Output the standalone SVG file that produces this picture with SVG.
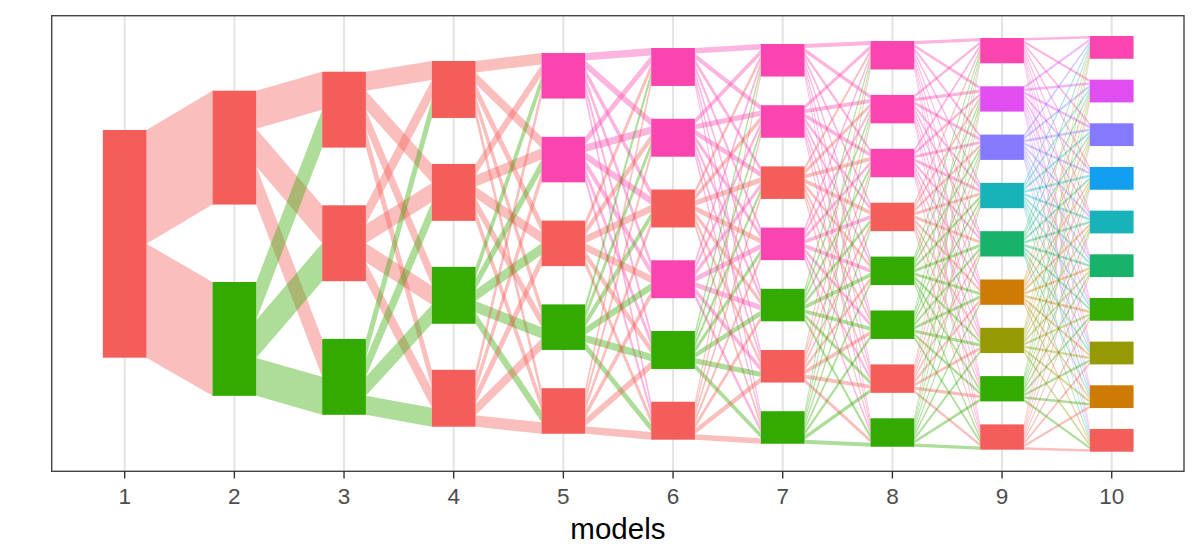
<svg xmlns="http://www.w3.org/2000/svg" width="1200" height="560" viewBox="0 0 1200 560">
<style>
.grid{stroke:#E3E3E3;stroke-width:2}
.tick{stroke:#333333;stroke-width:1.4}
.tl{font-family:"Liberation Sans",Arial,sans-serif;font-size:22.5px;fill:#4D4D4D;text-anchor:middle}
.title{font-family:"Liberation Sans",Arial,sans-serif;font-size:29.5px;fill:#000000;text-anchor:middle}
.cR{fill:#F35E5A}.cG{fill:#33AA00}.cP{fill:#FA45B0}.cM{fill:#E04DF1}.cV{fill:#8579FF}
.cT{fill:#17B3B9}.cE{fill:#17B26B}.cO{fill:#CD7B05}.cL{fill:#949A03}.cB{fill:#139FEF}
</style>
<defs>
<path id="f1" d="M0,130l1,-39.3v113.85l-1,39.3z"/>
<path id="f2" d="M0,90.7l1,-19v37.95l-1,19z"/>
<path id="f3" d="M0,71.7l1,-10.7v18.975l-1,10.7z"/>
<path id="f4" d="M0,61l1,-8v11.385l-1,8z"/>
<path id="f5" d="M0,53l1,-5v7.59l-1,5z"/>
<path id="f6" d="M0,48l1,-4v5.421l-1,4z"/>
<path id="f7" d="M0,44l1,-3v4.066l-1,3z"/>
<path id="f8" d="M0,41l1,-3v3.1625l-1,3z"/>
<path id="f9" d="M0,38l1,-2v2.53l-1,2z"/>
<g id="r1"><use href="#f1"/><use href="#f1" transform="matrix(1,77.45,0,1,0,113.85)"/></g>
<g id="r2"><use href="#f2"/><use href="#f2" transform="matrix(1,95.65,0,1,0,37.95)"/><use href="#f2" transform="matrix(1,191.3,0,1,0,75.9)"/></g>
<g id="r3"><use href="#f3"/><use href="#f3" transform="matrix(1,83.955,0,1,0,18.975)"/><use href="#f3" transform="matrix(1,167.91,0,1,0,37.95)"/><use href="#f3" transform="matrix(1,251.865,0,1,0,56.925)"/></g>
<g id="r4"><use href="#f4"/><use href="#f4" transform="matrix(1,72.415,0,1,0,11.385)"/><use href="#f4" transform="matrix(1,144.83,0,1,0,22.77)"/><use href="#f4" transform="matrix(1,217.245,0,1,0,34.155)"/><use href="#f4" transform="matrix(1,289.66,0,1,0,45.54)"/></g>
<g id="r5"><use href="#f5"/><use href="#f5" transform="matrix(1,63.16,0,1,0,7.59)"/><use href="#f5" transform="matrix(1,126.32,0,1,0,15.18)"/><use href="#f5" transform="matrix(1,189.48,0,1,0,22.77)"/><use href="#f5" transform="matrix(1,252.64,0,1,0,30.36)"/><use href="#f5" transform="matrix(1,315.8,0,1,0,37.95)"/></g>
<g id="r6"><use href="#f6"/><use href="#f6" transform="matrix(1,55.779,0,1,0,5.421)"/><use href="#f6" transform="matrix(1,111.558,0,1,0,10.842)"/><use href="#f6" transform="matrix(1,167.337,0,1,0,16.263)"/><use href="#f6" transform="matrix(1,223.116,0,1,0,21.684)"/><use href="#f6" transform="matrix(1,278.895,0,1,0,27.105)"/><use href="#f6" transform="matrix(1,334.674,0,1,0,32.526)"/></g>
<g id="r7"><use href="#f7"/><use href="#f7" transform="matrix(1,49.834,0,1,0,4.066)"/><use href="#f7" transform="matrix(1,99.668,0,1,0,8.132)"/><use href="#f7" transform="matrix(1,149.502,0,1,0,12.198)"/><use href="#f7" transform="matrix(1,199.336,0,1,0,16.264)"/><use href="#f7" transform="matrix(1,249.17,0,1,0,20.33)"/><use href="#f7" transform="matrix(1,299.004,0,1,0,24.396)"/><use href="#f7" transform="matrix(1,348.838,0,1,0,28.462)"/></g>
<g id="r8"><use href="#f8"/><use href="#f8" transform="matrix(1,45.1375,0,1,0,3.1625)"/><use href="#f8" transform="matrix(1,90.275,0,1,0,6.325)"/><use href="#f8" transform="matrix(1,135.4125,0,1,0,9.4875)"/><use href="#f8" transform="matrix(1,180.55,0,1,0,12.65)"/><use href="#f8" transform="matrix(1,225.6875,0,1,0,15.8125)"/><use href="#f8" transform="matrix(1,270.825,0,1,0,18.975)"/><use href="#f8" transform="matrix(1,315.9625,0,1,0,22.1375)"/><use href="#f8" transform="matrix(1,361.1,0,1,0,25.3)"/></g>
<g id="r9"><use href="#f9"/><use href="#f9" transform="matrix(1,41.13,0,1,0,2.53)"/><use href="#f9" transform="matrix(1,82.26,0,1,0,5.06)"/><use href="#f9" transform="matrix(1,123.39,0,1,0,7.59)"/><use href="#f9" transform="matrix(1,164.52,0,1,0,10.12)"/><use href="#f9" transform="matrix(1,205.65,0,1,0,12.65)"/><use href="#f9" transform="matrix(1,246.78,0,1,0,15.18)"/><use href="#f9" transform="matrix(1,287.91,0,1,0,17.71)"/><use href="#f9" transform="matrix(1,329.04,0,1,0,20.24)"/><use href="#f9" transform="matrix(1,370.17,0,1,0,22.77)"/></g>
</defs>
<rect width="1200" height="560" fill="#FFFFFF"/>
<g id="grid">
<line class="grid" x1="124.7" y1="15.7" x2="124.7" y2="471"/>
<line class="grid" x1="234.37" y1="15.7" x2="234.37" y2="471"/>
<line class="grid" x1="344.04" y1="15.7" x2="344.04" y2="471"/>
<line class="grid" x1="453.71" y1="15.7" x2="453.71" y2="471"/>
<line class="grid" x1="563.38" y1="15.7" x2="563.38" y2="471"/>
<line class="grid" x1="673.05" y1="15.7" x2="673.05" y2="471"/>
<line class="grid" x1="782.72" y1="15.7" x2="782.72" y2="471"/>
<line class="grid" x1="892.39" y1="15.7" x2="892.39" y2="471"/>
<line class="grid" x1="1002.06" y1="15.7" x2="1002.06" y2="471"/>
<line class="grid" x1="1111.73" y1="15.7" x2="1111.73" y2="471"/>
</g>
<g id="flows" fill-opacity="0.4">
<g transform="translate(146.55,0) scale(65.97,1)">
<use href="#r1" class="cR"/>
</g>
<g transform="translate(256.22,0) scale(65.97,1)">
<use href="#r2" class="cR"/>
<use href="#r2" class="cG" transform="matrix(1,-153.35,0,1,0,191.3)"/>
</g>
<g transform="translate(365.89,0) scale(65.97,1)">
<use href="#r3" class="cR"/>
<use href="#r3" class="cR" transform="matrix(1,-114.625,0,1,0,133.6)"/>
<use href="#r3" class="cG" transform="matrix(1,-229.25,0,1,0,267.2)"/>
</g>
<g transform="translate(475.56,0) scale(65.97,1)">
<use href="#r4" class="cR"/>
<use href="#r4" class="cR" transform="matrix(1,-91.545,0,1,0,102.93)"/>
<use href="#r4" class="cG" transform="matrix(1,-183.09,0,1,0,205.86)"/>
<use href="#r4" class="cR" transform="matrix(1,-274.635,0,1,0,308.79)"/>
</g>
<g transform="translate(585.23,0) scale(65.97,1)">
<use href="#r5" class="cP"/>
<use href="#r5" class="cP" transform="matrix(1,-76.21,0,1,0,83.8)"/>
<use href="#r5" class="cR" transform="matrix(1,-152.42,0,1,0,167.6)"/>
<use href="#r5" class="cG" transform="matrix(1,-228.63,0,1,0,251.4)"/>
<use href="#r5" class="cR" transform="matrix(1,-304.84,0,1,0,335.2)"/>
</g>
<g transform="translate(694.9,0) scale(65.97,1)">
<use href="#r6" class="cP"/>
<use href="#r6" class="cP" transform="matrix(1,-65.329,0,1,0,70.75)"/>
<use href="#r6" class="cR" transform="matrix(1,-130.658,0,1,0,141.5)"/>
<use href="#r6" class="cP" transform="matrix(1,-195.987,0,1,0,212.25)"/>
<use href="#r6" class="cG" transform="matrix(1,-261.316,0,1,0,283)"/>
<use href="#r6" class="cR" transform="matrix(1,-326.645,0,1,0,353.75)"/>
</g>
<g transform="translate(804.57,0) scale(65.97,1)">
<use href="#r7" class="cP"/>
<use href="#r7" class="cP" transform="matrix(1,-57.134,0,1,0,61.2)"/>
<use href="#r7" class="cR" transform="matrix(1,-114.268,0,1,0,122.4)"/>
<use href="#r7" class="cP" transform="matrix(1,-171.402,0,1,0,183.6)"/>
<use href="#r7" class="cG" transform="matrix(1,-228.536,0,1,0,244.8)"/>
<use href="#r7" class="cR" transform="matrix(1,-285.67,0,1,0,306)"/>
<use href="#r7" class="cG" transform="matrix(1,-342.804,0,1,0,367.2)"/>
</g>
<g transform="translate(914.24,0) scale(65.97,1)">
<use href="#r8" class="cP"/>
<use href="#r8" class="cP" transform="matrix(1,-50.7375,0,1,0,53.9)"/>
<use href="#r8" class="cP" transform="matrix(1,-101.475,0,1,0,107.8)"/>
<use href="#r8" class="cR" transform="matrix(1,-152.2125,0,1,0,161.7)"/>
<use href="#r8" class="cG" transform="matrix(1,-202.95,0,1,0,215.6)"/>
<use href="#r8" class="cG" transform="matrix(1,-253.6875,0,1,0,269.5)"/>
<use href="#r8" class="cR" transform="matrix(1,-304.425,0,1,0,323.4)"/>
<use href="#r8" class="cG" transform="matrix(1,-355.1625,0,1,0,377.3)"/>
</g>
<g transform="translate(1023.91,0) scale(65.97,1)">
<use href="#r9" class="cP"/>
<use href="#r9" class="cM" transform="matrix(1,-45.77,0,1,0,48.3)"/>
<use href="#r9" class="cV" transform="matrix(1,-91.54,0,1,0,96.6)"/>
<use href="#r9" class="cT" transform="matrix(1,-137.31,0,1,0,144.9)"/>
<use href="#r9" class="cE" transform="matrix(1,-183.08,0,1,0,193.2)"/>
<use href="#r9" class="cO" transform="matrix(1,-228.85,0,1,0,241.5)"/>
<use href="#r9" class="cL" transform="matrix(1,-274.62,0,1,0,289.8)"/>
<use href="#r9" class="cG" transform="matrix(1,-320.39,0,1,0,338.1)"/>
<use href="#r9" class="cR" transform="matrix(1,-366.16,0,1,0,386.4)"/>
</g>
</g>
<g id="nodes">
<g id="n1-1"><rect class="cR" x="102.85" y="130" width="43.7" height="227.7"/></g>
<g id="n2-1"><rect class="cR" x="212.52" y="90.7" width="43.7" height="113.85"/></g>
<g id="n2-2"><rect class="cG" x="212.52" y="282" width="43.7" height="113.85"/></g>
<g id="n3-1"><rect class="cR" x="322.19" y="71.7" width="43.7" height="75.9"/></g>
<g id="n3-2"><rect class="cR" x="322.19" y="205.3" width="43.7" height="75.9"/></g>
<g id="n3-3"><rect class="cG" x="322.19" y="338.9" width="43.7" height="75.9"/></g>
<g id="n4-1"><rect class="cR" x="431.86" y="61" width="43.7" height="56.93"/></g>
<g id="n4-2"><rect class="cR" x="431.86" y="163.93" width="43.7" height="56.93"/></g>
<g id="n4-3"><rect class="cG" x="431.86" y="266.86" width="43.7" height="56.93"/></g>
<g id="n4-4"><rect class="cR" x="431.86" y="369.79" width="43.7" height="56.93"/></g>
<g id="n5-1"><rect class="cP" x="541.53" y="53" width="43.7" height="45.54"/></g>
<g id="n5-2"><rect class="cP" x="541.53" y="136.8" width="43.7" height="45.54"/></g>
<g id="n5-3"><rect class="cR" x="541.53" y="220.6" width="43.7" height="45.54"/></g>
<g id="n5-4"><rect class="cG" x="541.53" y="304.4" width="43.7" height="45.54"/></g>
<g id="n5-5"><rect class="cR" x="541.53" y="388.2" width="43.7" height="45.54"/></g>
<g id="n6-1"><rect class="cP" x="651.2" y="48" width="43.7" height="37.95"/></g>
<g id="n6-2"><rect class="cP" x="651.2" y="118.75" width="43.7" height="37.95"/></g>
<g id="n6-3"><rect class="cR" x="651.2" y="189.5" width="43.7" height="37.95"/></g>
<g id="n6-4"><rect class="cP" x="651.2" y="260.25" width="43.7" height="37.95"/></g>
<g id="n6-5"><rect class="cG" x="651.2" y="331" width="43.7" height="37.95"/></g>
<g id="n6-6"><rect class="cR" x="651.2" y="401.75" width="43.7" height="37.95"/></g>
<g id="n7-1"><rect class="cP" x="760.87" y="44" width="43.7" height="32.53"/></g>
<g id="n7-2"><rect class="cP" x="760.87" y="105.2" width="43.7" height="32.53"/></g>
<g id="n7-3"><rect class="cR" x="760.87" y="166.4" width="43.7" height="32.53"/></g>
<g id="n7-4"><rect class="cP" x="760.87" y="227.6" width="43.7" height="32.53"/></g>
<g id="n7-5"><rect class="cG" x="760.87" y="288.8" width="43.7" height="32.53"/></g>
<g id="n7-6"><rect class="cR" x="760.87" y="350" width="43.7" height="32.53"/></g>
<g id="n7-7"><rect class="cG" x="760.87" y="411.2" width="43.7" height="32.53"/></g>
<g id="n8-1"><rect class="cP" x="870.54" y="41" width="43.7" height="28.46"/></g>
<g id="n8-2"><rect class="cP" x="870.54" y="94.9" width="43.7" height="28.46"/></g>
<g id="n8-3"><rect class="cP" x="870.54" y="148.8" width="43.7" height="28.46"/></g>
<g id="n8-4"><rect class="cR" x="870.54" y="202.7" width="43.7" height="28.46"/></g>
<g id="n8-5"><rect class="cG" x="870.54" y="256.6" width="43.7" height="28.46"/></g>
<g id="n8-6"><rect class="cG" x="870.54" y="310.5" width="43.7" height="28.46"/></g>
<g id="n8-7"><rect class="cR" x="870.54" y="364.4" width="43.7" height="28.46"/></g>
<g id="n8-8"><rect class="cG" x="870.54" y="418.3" width="43.7" height="28.46"/></g>
<g id="n9-1"><rect class="cP" x="980.21" y="38" width="43.7" height="25.3"/></g>
<g id="n9-2"><rect class="cM" x="980.21" y="86.3" width="43.7" height="25.3"/></g>
<g id="n9-3"><rect class="cV" x="980.21" y="134.6" width="43.7" height="25.3"/></g>
<g id="n9-4"><rect class="cT" x="980.21" y="182.9" width="43.7" height="25.3"/></g>
<g id="n9-5"><rect class="cE" x="980.21" y="231.2" width="43.7" height="25.3"/></g>
<g id="n9-6"><rect class="cO" x="980.21" y="279.5" width="43.7" height="25.3"/></g>
<g id="n9-7"><rect class="cL" x="980.21" y="327.8" width="43.7" height="25.3"/></g>
<g id="n9-8"><rect class="cG" x="980.21" y="376.1" width="43.7" height="25.3"/></g>
<g id="n9-9"><rect class="cR" x="980.21" y="424.4" width="43.7" height="25.3"/></g>
<g id="n10-1"><rect class="cP" x="1089.88" y="36" width="43.7" height="22.77"/></g>
<g id="n10-2"><rect class="cM" x="1089.88" y="79.66" width="43.7" height="22.77"/></g>
<g id="n10-3"><rect class="cV" x="1089.88" y="123.32" width="43.7" height="22.77"/></g>
<g id="n10-4"><rect class="cB" x="1089.88" y="166.98" width="43.7" height="22.77"/></g>
<g id="n10-5"><rect class="cT" x="1089.88" y="210.64" width="43.7" height="22.77"/></g>
<g id="n10-6"><rect class="cE" x="1089.88" y="254.3" width="43.7" height="22.77"/></g>
<g id="n10-7"><rect class="cG" x="1089.88" y="297.96" width="43.7" height="22.77"/></g>
<g id="n10-8"><rect class="cL" x="1089.88" y="341.62" width="43.7" height="22.77"/></g>
<g id="n10-9"><rect class="cO" x="1089.88" y="385.28" width="43.7" height="22.77"/></g>
<g id="n10-10"><rect class="cR" x="1089.88" y="428.94" width="43.7" height="22.77"/></g>
</g>
<rect id="panel" x="51.7" y="15.7" width="1132.3" height="455.6" fill="none" stroke="#444444" stroke-width="1.4"/>
<g id="axis">
<line class="tick" x1="124.7" y1="471.3" x2="124.7" y2="478.5"/>
<line class="tick" x1="234.37" y1="471.3" x2="234.37" y2="478.5"/>
<line class="tick" x1="344.04" y1="471.3" x2="344.04" y2="478.5"/>
<line class="tick" x1="453.71" y1="471.3" x2="453.71" y2="478.5"/>
<line class="tick" x1="563.38" y1="471.3" x2="563.38" y2="478.5"/>
<line class="tick" x1="673.05" y1="471.3" x2="673.05" y2="478.5"/>
<line class="tick" x1="782.72" y1="471.3" x2="782.72" y2="478.5"/>
<line class="tick" x1="892.39" y1="471.3" x2="892.39" y2="478.5"/>
<line class="tick" x1="1002.06" y1="471.3" x2="1002.06" y2="478.5"/>
<line class="tick" x1="1111.73" y1="471.3" x2="1111.73" y2="478.5"/>
<text class="tl" x="124.7" y="504.3">1</text>
<text class="tl" x="234.37" y="504.3">2</text>
<text class="tl" x="344.04" y="504.3">3</text>
<text class="tl" x="453.71" y="504.3">4</text>
<text class="tl" x="563.38" y="504.3">5</text>
<text class="tl" x="673.05" y="504.3">6</text>
<text class="tl" x="782.72" y="504.3">7</text>
<text class="tl" x="892.39" y="504.3">8</text>
<text class="tl" x="1002.06" y="504.3">9</text>
<text class="tl" x="1111.73" y="504.3">10</text>
<text class="title" x="617.9" y="539">models</text>
</g>
</svg>
